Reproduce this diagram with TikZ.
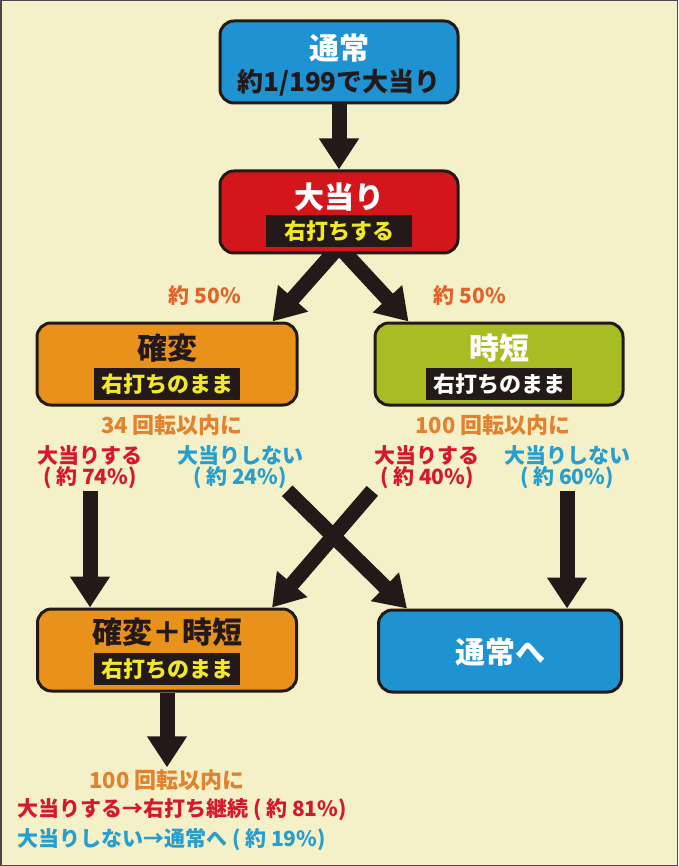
\documentclass[tikz,border=0pt]{standalone}
\usepackage{fontspec}
\setmainfont{Noto Sans CJK JP}
\usetikzlibrary{arrows.meta}

\definecolor{cream}{RGB}{244,241,201}
\definecolor{boxblue}{RGB}{31,146,210}
\definecolor{boxred}{RGB}{211,22,28}
\definecolor{boxorange}{RGB}{232,146,28}
\definecolor{boxolive}{RGB}{168,188,36}
\definecolor{ink}{RGB}{35,25,24}
\definecolor{tagyellow}{RGB}{240,232,40}
\definecolor{txtorange}{RGB}{226,98,40}
\definecolor{txtamber}{RGB}{226,130,46}
\definecolor{txtred}{RGB}{214,24,44}
\definecolor{txtblue}{RGB}{40,158,206}

\newcommand{\fsz}[1]{\fontsize{#1}{#1}\selectfont\bfseries}

\pgfdeclarelayer{bglayer}
\pgfdeclarelayer{arrowlayer}
\pgfsetlayers{bglayer,arrowlayer,main}

\begin{document}
\begin{tikzpicture}[
		x=1pt, y=-1pt,
		every node/.style={inner sep=2pt},
		box/.style={draw=ink, line width=3pt, rounded corners=14pt, minimum height=82pt},
		title/.style={font=\fsz{30}},
		tag/.style={fill=ink, minimum width=146pt, minimum height=32pt, inner sep=0pt, font=\fsz{22}},
		note/.style={font=\fsz{21}, align=center},
		flow/.style={draw=ink, line width=15pt, -{Triangle[width=38pt,length=31pt]}}
	]
  \useasboundingbox (0,0) rectangle (678,866);
  \begin{pgfonlayer}{bglayer}
    \fill[cream] (0,0) rectangle (678,866);
    \draw[ink!80, line width=1.5pt] (0.75,0.75) rectangle (677.25,865.25);
  \end{pgfonlayer}

  % boxes
  \node (tsujo) [box, fill=boxblue, minimum width=238pt] at (339,62) {};
  \node (tsujo_title) [title, text=white] at (339,48) {通常};
  \node (tsujo_rate) [font=\fsz{26}, text=ink] at (339,83) {約1/199で大当り};

  \node (hit) [box, fill=boxred, minimum width=238pt] at (339,212) {};
  \node (hit_title) [title, text=white] at (339,197) {大当り};
  \node (hit_tag) [tag, text=tagyellow] at (339,231) {右打ちする};

  \node (kakuhen) [box, fill=boxorange, minimum width=260pt] at (167,364) {};
  \node (kakuhen_title) [title, text=ink] at (167,348) {確変};
  \node (kakuhen_tag) [tag, text=tagyellow] at (167,384) {右打ちのまま};

  \node (jitan) [box, fill=boxolive, minimum width=248pt] at (499,364) {};
  \node (jitan_title) [title, text=white] at (499,348) {時短};
  \node (jitan_tag) [tag, text=white] at (499,384) {右打ちのまま};

  \node (both) [box, fill=boxorange, minimum width=259pt] at (167,650) {};
  \node (both_title) [title, text=ink] at (167,632) {確変＋時短};
  \node (both_tag) [tag, text=tagyellow] at (167,669) {右打ちのまま};

  \node (back) [box, fill=boxblue, minimum width=243pt] at (500,651) {};
  \node (back_title) [title, text=white] at (500,652) {通常へ};

  % texts
  \node (split_l) [note, text=txtorange] at (205,296) {約 50\%};
  \node (split_r) [note, text=txtorange] at (470,296) {約 50\%};

  \node (kakuhen_spins) [note, text=txtamber, font=\fsz{22}] at (172,425) {34 回転以内に};
  \node (kakuhen_win) [note, text=txtred] at (90,467) {大当りする\\( 約 74\%)};
  \node (kakuhen_lose) [note, text=txtblue] at (240,467) {大当りしない\\( 約 24\%)};

  \node (jitan_spins) [note, text=txtamber, font=\fsz{22}] at (493,425) {100 回転以内に};
  \node (jitan_win) [note, text=txtred] at (427,467) {大当りする\\( 約 40\%)};
  \node (jitan_lose) [note, text=txtblue] at (567,467) {大当りしない\\( 約 60\%)};

  \node (both_spins) [note, text=txtamber, font=\fsz{22}] at (167,780) {100 回転以内に};
  \node (both_win) [note, text=txtred, anchor=west] at (15,810) {大当りする→右打ち継続 ( 約 81\%)};
  \node (both_lose) [note, text=txtblue, anchor=west] at (15,840) {大当りしない→通常へ ( 約 19\%)};

  % arrows
  \begin{pgfonlayer}{arrowlayer}
    \draw[flow] (tsujo.south) -- (hit.north);
    \draw[flow] ([yshift=8]hit.south) -- ([xshift=-26]kakuhen.north east);
    \draw[flow] ([yshift=8]hit.south) -- ([xshift=35]jitan.north west);
    \draw[flow] (kakuhen_win.south) -- (kakuhen_win.south |- both.north);
    \draw[flow] ([xshift=-18]kakuhen_lose.south east) -- ([xshift=30]back.north west);
    \draw[flow] (jitan_win.south west) -- ([xshift=-26]both.north east);
    \draw[flow] (jitan_lose.south) -- (jitan_lose.south |- back.north);
    \draw[flow] (both.south) -- (both_spins.north);
  \end{pgfonlayer}
\end{tikzpicture}
\end{document}
